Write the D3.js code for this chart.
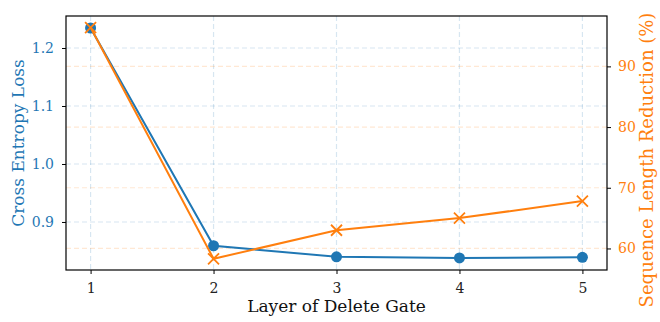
<!DOCTYPE html>
<html>
<head>
<meta charset="utf-8">
<script src="https://cdn.jsdelivr.net/npm/d3@7"></script>
<style>
  body { margin: 0; background: #fff; }
  text { font-family: "DejaVu Serif", "Liberation Serif", serif; }
</style>
</head>
<body>
<div id="chart"></div>
<script>
    var layers = [1, 2, 3, 4, 5];
    var lossValues = [1.2345, 0.859, 0.840, 0.838, 0.839];
    var seqReduction = [96.4, 58.3, 63.0, 65.0, 67.8];
    var lossTicks = [0.9, 1.0, 1.1, 1.2];
    var seqTicks = [60, 70, 80, 90];

    var blue = "#1f77b4", orange = "#ff7f0e";
    var width = 660, height = 322;
    var m = {left: 66, right: 53, top: 16, bottom: 52};
    var w = width - m.left - m.right, h = height - m.top - m.bottom;

    var svg = d3.select("#chart").append("svg")
        .attr("width", width).attr("height", height);
    var g = svg.append("g").attr("transform", "translate(" + m.left + "," + m.top + ")");

    var x = d3.scaleLinear().domain([0.8, 5.2]).range([0, w]);
    var yL = d3.scaleLinear().domain([0.8172, 1.2552]).range([h, 0]);
    var yR = d3.scaleLinear().domain([56.45, 98.3]).range([h, 0]);

    // grid lines
    g.append("g").selectAll("line").data(layers).enter().append("line")
        .attr("x1", function (d) { return x(d); }).attr("x2", function (d) { return x(d); })
        .attr("y1", 0).attr("y2", h)
        .attr("stroke", blue).attr("stroke-opacity", 0.18)
        .attr("stroke-dasharray", "5,3").attr("stroke-width", 1.2);
    g.append("g").selectAll("line").data(lossTicks).enter().append("line")
        .attr("x1", 0).attr("x2", w)
        .attr("y1", function (d) { return yL(d); }).attr("y2", function (d) { return yL(d); })
        .attr("stroke", blue).attr("stroke-opacity", 0.18)
        .attr("stroke-dasharray", "5,3").attr("stroke-width", 1.2);
    g.append("g").selectAll("line").data(seqTicks).enter().append("line")
        .attr("x1", 0).attr("x2", w)
        .attr("y1", function (d) { return yR(d); }).attr("y2", function (d) { return yR(d); })
        .attr("stroke", orange).attr("stroke-opacity", 0.18)
        .attr("stroke-dasharray", "5,3").attr("stroke-width", 1.2);

    // axes
    function styleAxis(sel, color) {
        sel.select(".domain").remove();
        sel.selectAll(".tick line").attr("stroke", "#000").attr("stroke-width", 1);
        sel.selectAll(".tick text").attr("fill", color).style("font-size", "14px");
    }
    var xAxis = g.append("g").attr("transform", "translate(0," + h + ")")
        .call(d3.axisBottom(x).tickValues(layers).tickFormat(d3.format("d")).tickSize(4).tickPadding(9));
    styleAxis(xAxis, "#222");
    var lAxis = g.append("g")
        .call(d3.axisLeft(yL).tickValues(lossTicks).tickFormat(d3.format(".1f")).tickSize(4).tickPadding(8));
    styleAxis(lAxis, blue);
    var rAxis = g.append("g").attr("transform", "translate(" + w + ",0)")
        .call(d3.axisRight(yR).tickValues(seqTicks).tickFormat(d3.format("d")).tickSize(4).tickPadding(7));
    styleAxis(rAxis, orange);

    g.append("rect").attr("width", w).attr("height", h)
        .attr("fill", "none").attr("stroke", "#000").attr("stroke-width", 1.2);

    // series
    var lossLine = d3.line().x(function (d, i) { return x(layers[i]); }).y(function (d) { return yL(d); });
    var seqLine = d3.line().x(function (d, i) { return x(layers[i]); }).y(function (d) { return yR(d); });

    g.append("path").datum(lossValues).attr("d", lossLine)
        .attr("fill", "none").attr("stroke", blue).attr("stroke-width", 2);
    g.append("g").selectAll("circle").data(lossValues).enter().append("circle")
        .attr("cx", function (d, i) { return x(layers[i]); })
        .attr("cy", function (d) { return yL(d); })
        .attr("r", 5.5).attr("fill", blue);

    g.append("path").datum(seqReduction).attr("d", seqLine)
        .attr("fill", "none").attr("stroke", orange).attr("stroke-width", 2);
    var s = 5.5;
    g.append("g").selectAll("path").data(seqReduction).enter().append("path")
        .attr("transform", function (d, i) { return "translate(" + x(layers[i]) + "," + yR(d) + ")"; })
        .attr("d", "M" + -s + "," + -s + "L" + s + "," + s + "M" + -s + "," + s + "L" + s + "," + -s)
        .attr("stroke", orange).attr("stroke-width", 1.8).attr("fill", "none");

    // labels
    svg.append("text").attr("x", m.left + w / 2).attr("y", 312)
        .attr("text-anchor", "middle").style("font-size", "17px").attr("fill", "#111")
        .text("Layer of Delete Gate");
    svg.append("text").attr("transform", "translate(24," + (m.top + h / 2) + ") rotate(-90)")
        .attr("text-anchor", "middle").style("font-size", "17px").attr("fill", blue)
        .text("Cross Entropy Loss");
    svg.append("text").attr("transform", "translate(653,160) rotate(-90)")
        .attr("text-anchor", "middle").style("font-size", "18px").attr("fill", orange)
        .text("Sequence Length Reduction (%)");
</script>
</body>
</html>
